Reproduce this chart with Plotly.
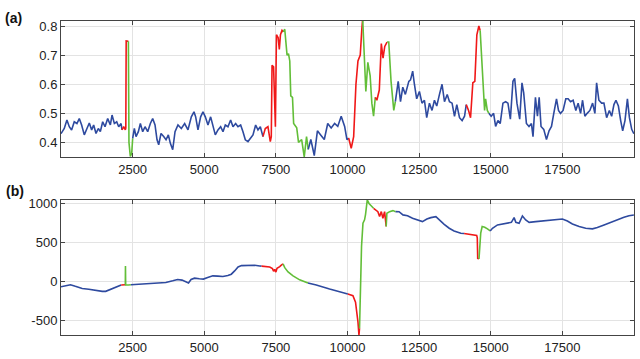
import plotly.graph_objects as go
from plotly.subplots import make_subplots

# ---------------- data: panel (a) ----------------
top_x = [0, 114, 207, 289, 370, 463, 556, 638, 720, 813, 906, 988, 1070, 1140, 1222, 1303, 1373, 1455, 1536, 1630,
         1723, 1781, 1863, 1944, 2014, 2096, 2130, 2188, 2246, 2262, 2275, 2340, 2352, 2372, 2420, 2467, 2502, 2560,
         2619, 2700, 2770, 2852, 2933, 3026, 3119, 3200, 3282, 3352, 3410, 3491, 3584, 3666, 3747, 3817, 3899, 3980,
         4083, 4200, 4316, 4432, 4549, 4642, 4700, 4781, 4874, 4956, 5037, 5130, 5223, 5305, 5386, 5479, 5572, 5654,
         5735, 5828, 5921, 6003, 6096, 6177, 6270, 6352, 6433, 6526, 6619, 6701, 6794, 6875, 6957, 7015, 7050, 7130,
         7223, 7305, 7340, 7366, 7420, 7483, 7520, 7580, 7620, 7660, 7715, 7760, 7810, 7890, 7940, 7985, 8020, 8080,
         8120, 8228, 8290, 8400, 8490, 8570, 8630, 8720, 8840, 8950, 9070, 9190, 9310, 9430, 9550, 9660, 9780, 9900,
         9980, 10040, 10130, 10215, 10295, 10365, 10445, 10500, 10530, 10595, 10640, 10710, 10790, 10850, 10910,
         10970, 11025, 11110, 11180, 11240, 11300, 11380, 11440, 11520, 11615, 11670, 11770, 11850, 11930, 12020,
         12140, 12200, 12275, 12335, 12415, 12510, 12600, 12685, 12765, 12860, 12950, 13035, 13115, 13210, 13300,
         13385, 13480, 13560, 13650, 13735, 13815, 13910, 14000, 14085, 14145, 14225, 14295, 14375, 14445, 14515,
         14585, 14630, 14700, 14750, 14785, 14820, 14880, 14935, 15015, 15100, 15170, 15250, 15330, 15425, 15520,
         15600, 15685, 15775, 15835, 15915, 16010, 16090, 16150, 16245, 16335, 16420, 16475, 16560, 16630, 16690,
         16755, 16850, 16945, 17035, 17120, 17200, 17295, 17365, 17435, 17525, 17620, 17700, 17785, 17875, 17970,
         18050, 18135, 18205, 18285, 18365, 18460, 18555, 18635, 18695, 18775, 18870, 18950, 19045, 19140, 19220,
         19300, 19370, 19455, 19535, 19605, 19685, 19770, 19840, 19920, 19995]
top_y = [0.430, 0.448, 0.477, 0.454, 0.443, 0.471, 0.465, 0.482, 0.460, 0.426, 0.448, 0.467, 0.443, 0.460, 0.431,
         0.448, 0.437, 0.471, 0.454, 0.482, 0.460, 0.494, 0.465, 0.471, 0.454, 0.465, 0.443, 0.454, 0.443, 0.450,
         0.749, 0.750, 0.748, 0.400, 0.352, 0.362, 0.414, 0.448, 0.420, 0.437, 0.465, 0.437, 0.454, 0.437, 0.465,
         0.482, 0.460, 0.409, 0.392, 0.431, 0.420, 0.409, 0.426, 0.397, 0.375, 0.437, 0.460, 0.448, 0.465, 0.443,
         0.488, 0.505, 0.488, 0.443, 0.488, 0.505, 0.488, 0.460, 0.488, 0.454, 0.426, 0.443, 0.454, 0.437, 0.460,
         0.454, 0.477, 0.454, 0.465, 0.454, 0.460, 0.437, 0.409, 0.403, 0.414, 0.426, 0.460, 0.443, 0.454, 0.431,
         0.420, 0.448, 0.454, 0.403, 0.420, 0.665, 0.660, 0.454, 0.770, 0.760, 0.720, 0.770, 0.785, 0.780, 0.789,
         0.700, 0.705, 0.680, 0.560, 0.555, 0.465, 0.450, 0.400, 0.410, 0.350, 0.420, 0.376, 0.410, 0.355, 0.440,
         0.425, 0.410, 0.465, 0.450, 0.465, 0.455, 0.490, 0.455, 0.410, 0.415, 0.380, 0.420, 0.600, 0.680, 0.700,
         0.790, 0.825, 0.700, 0.575, 0.675, 0.630, 0.535, 0.490, 0.555, 0.545, 0.580, 0.740, 0.690, 0.730, 0.745,
         0.745, 0.610, 0.510, 0.540, 0.610, 0.540, 0.590, 0.565, 0.610, 0.615, 0.645, 0.600, 0.550, 0.575, 0.535,
         0.545, 0.485, 0.535, 0.510, 0.545, 0.525, 0.565, 0.600, 0.540, 0.565, 0.540, 0.535, 0.490, 0.530, 0.485,
         0.475, 0.490, 0.530, 0.510, 0.485, 0.605, 0.610, 0.770, 0.800, 0.785, 0.675, 0.580, 0.510, 0.550, 0.510,
         0.500, 0.490, 0.500, 0.455, 0.475, 0.465, 0.535, 0.540, 0.535, 0.480, 0.610, 0.620, 0.535, 0.480, 0.605,
         0.570, 0.465, 0.455, 0.465, 0.420, 0.555, 0.490, 0.555, 0.455, 0.445, 0.410, 0.440, 0.455, 0.500, 0.550,
         0.510, 0.500, 0.510, 0.550, 0.550, 0.540, 0.545, 0.510, 0.535, 0.500, 0.545, 0.490, 0.500, 0.510, 0.535,
         0.500, 0.605, 0.545, 0.535, 0.535, 0.485, 0.510, 0.490, 0.530, 0.545, 0.525, 0.475, 0.440, 0.475, 0.550,
         0.485, 0.445, 0.430]
# state changes (start x, state): n = normal, r = rising, g = falling
top_states = [(0, "n"), (2128, "r"), (2350, "g"), (2500, "n"), (7050, "r"), (7760, "g"), (8630, "n"),
              (10030, "r"), (10520, "g"), (10970, "r"), (11380, "g"), (11670, "n"), (14145, "r"),
              (14630, "g"), (14935, "n")]

# ---------------- data: panel (b) ----------------
bot_x = [0, 200, 330, 500, 740, 970, 1200, 1440, 1560, 1670, 1850, 2030, 2100, 2200, 2245, 2250, 2258, 2350, 2440,
         2730, 3080, 3430, 3660, 3900, 4070, 4225, 4365, 4450, 4540, 4660, 4830, 4970, 5120, 5300, 5475, 5650, 5825,
         5945, 6060, 6180, 6300, 6530, 6760, 6940, 7000, 7140, 7285, 7380, 7420, 7460, 7500, 7540, 7600, 7635, 7680,
         7720, 7750, 7810, 7925, 8100, 8330, 8620, 8910, 9375, 9840, 10010, 10190, 10280, 10330, 10365, 10400,
         10420, 10455, 10490, 10540, 10595, 10630, 10690, 10750, 10865, 10910, 11060, 11120, 11180, 11235, 11295,
         11350, 11375, 11470, 11585, 11680, 11800, 11935, 12095, 12270, 12440, 12615, 12770, 12910, 13085, 13200,
         13375, 13550, 13720, 13955, 14070, 14245, 14420, 14510, 14530, 14545, 14590, 14650, 14700, 14790, 14885,
         14980, 15060, 15235, 15410, 15580, 15720, 15815, 15875, 15990, 16105, 16220, 16340, 16570, 16805, 17035,
         17270, 17500, 17675, 17850, 18085, 18315, 18550, 18720, 18955, 19190, 19420, 19650, 19825, 19995]
bot_y = [-68, -55, -42, -63, -90, -100, -118, -127, -127, -110, -76, -50, -45, -42, -42, 198, -45, -45, -42,
         -35, -25, -17, -13, 8, 25, 17, -4, -20, 25, 42, 34, 30, 50, 72, 68, 63, 76,
         93, 135, 186, 203, 207, 207, 198, 196, 190, 185, 165, 130, 156, 120, 170, 180, 190, 205,
         219, 225, 177, 122, 72, 21, -21, -46, -97, -148, -161, -182, -266, -393, -520, -690,
         -600, -97, 452, 748, 790, 860, 1045, 1000, 950, 938, 895, 832, 895, 811, 895,
         705, 874, 895, 908, 895, 894, 853, 843, 810, 785, 767, 800, 818, 830, 788,
         733, 682, 648, 618, 614, 606, 597, 589, 560, 295, 290, 620, 704, 695, 674,
         648, 682, 725, 737, 746, 758, 818, 758, 746, 839, 788, 758, 767, 775, 788,
         800, 800, 775, 737, 704, 682, 674, 691, 725, 758, 797, 822, 843, 852]
bot_states = [(0, "n"), (2090, "r"), (2245, "g"), (2440, "n"), (7000, "r"), (7750, "g"), (8620, "n"),
              (10010, "r"), (10420, "g"), (10910, "r"), (11350, "g"), (11680, "n"), (14070, "r"),
              (14590, "g"), (14960, "n")]

x_ticks = [2500, 5000, 7500, 10000, 12500, 15000, 17500]
x_ticktext = ["2500", "5000", "7500", "10000", "12500", "15000", "17500"]
top_ticks = [0.4, 0.5, 0.6, 0.7, 0.8]
top_ticktext = ["0.4", "0.5", "0.6", "0.7", "0.8"]
bot_ticks = [-500, 0, 500, 1000]
bot_ticktext = ["-500", "0", "500", "1000"]

COLORS = {"n": "#2E4A9F", "r": "#F01818", "g": "#62BE38"}


def state_of(x, states):
    s = states[0][1]
    for start, st in states:
        if x >= start:
            s = st
    return s


def add_runs(fig, xs, ys, states, row):
    labels = [state_of(x, states) for x in xs]
    i = 0
    n = len(xs)
    while i < n:
        j = i
        while j + 1 < n and labels[j + 1] == labels[i]:
            j += 1
        end = min(j + 1, n - 1)
        fig.add_trace(go.Scatter(x=xs[i:end + 1], y=ys[i:end + 1], mode="lines",
                                 line=dict(color=COLORS[labels[i]], width=1.6),
                                 showlegend=False, hoverinfo="skip"),
                      row=row, col=1)
        i = j + 1


fig = make_subplots(rows=2, cols=1)
add_runs(fig, top_x, top_y, top_states, 1)
add_runs(fig, bot_x, bot_y, bot_states, 2)

W, H = 640, 359
x0, x1 = 61 / W, 634 / W
FONT = "Liberation Sans, Arial, sans-serif"
axis_common = dict(showline=True, linecolor="#444", linewidth=1, mirror="ticks", ticks="inside",
                   ticklen=4, tickcolor="#444", showgrid=True, gridcolor="#E3E3E3", gridwidth=1,
                   zeroline=False, tickfont=dict(family=FONT, size=13, color="#222"))

fig.update_xaxes(domain=[x0, x1], range=[0, 20000], tickvals=x_ticks, ticktext=x_ticktext, **axis_common)
fig.update_yaxes(**axis_common)
fig.update_yaxes(row=1, col=1, domain=[1 - 155 / H, 1 - 17 / H], range=[0.349, 0.818],
                 tickvals=top_ticks, ticktext=top_ticktext)
fig.update_yaxes(row=2, col=1, domain=[1 - 335 / H, 1 - 198.3 / H], range=[-690, 1043],
                 tickvals=bot_ticks, ticktext=bot_ticktext)

fig.add_annotation(text="<b>(a)</b>", xref="paper", yref="paper", x=3 / W, y=1 - 14.5 / H,
                   xanchor="left", yanchor="middle", showarrow=False,
                   font=dict(family=FONT, size=14, color="#111"))
fig.add_annotation(text="<b>(b)</b>", xref="paper", yref="paper", x=4 / W, y=1 - 189 / H,
                   xanchor="left", yanchor="middle", showarrow=False,
                   font=dict(family=FONT, size=14, color="#111"))

fig.update_layout(width=W, height=H, margin=dict(l=0, r=0, t=0, b=0),
                  paper_bgcolor="white", plot_bgcolor="white", showlegend=False)

fig.write_html("out.html")
